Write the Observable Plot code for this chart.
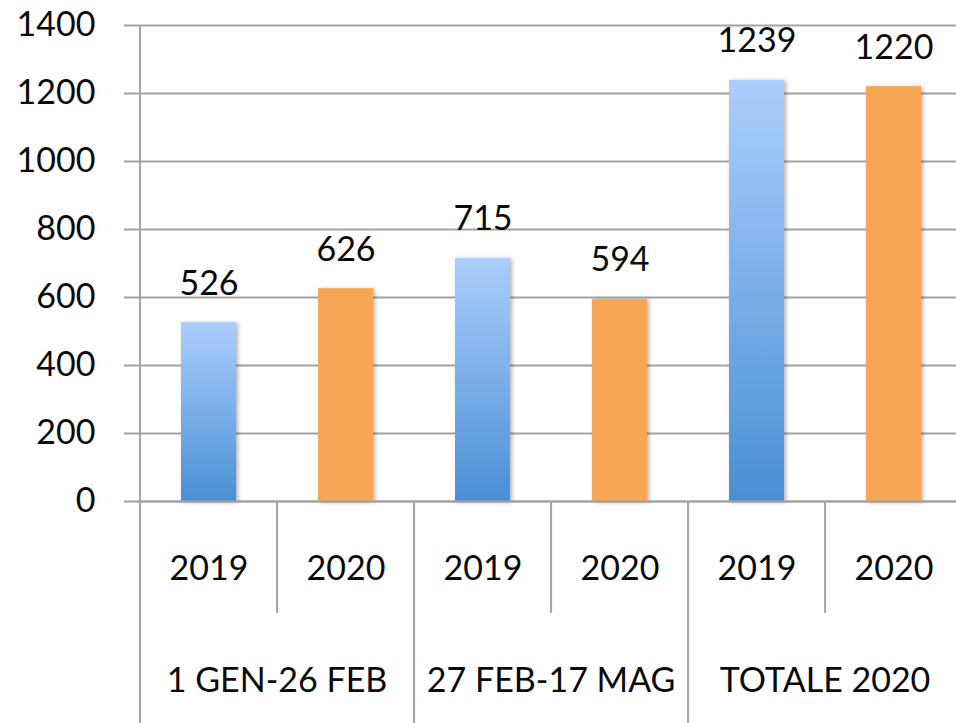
<!DOCTYPE html>
<html>
<head>
<meta charset="utf-8">
<script src="https://cdn.jsdelivr.net/npm/d3@7"></script>
<script src="https://cdn.jsdelivr.net/npm/@observablehq/plot@0.6"></script>
<style>
  html, body { margin: 0; padding: 0; background: #fff; }
</style>
</head>
<body>
<div id="chart"></div>
<script>
const groups = ["1 GEN-26 FEB", "27 FEB-17 MAG", "TOTALE 2020"];
const years = ["2019", "2020"];
const values2019 = [526, 715, 1239];
const values2020 = [626, 594, 1220];
const yTicks = [0, 200, 400, 600, 800, 1000, 1200, 1400];

const data = groups.flatMap((g, i) => [
  {group: g, year: years[0], value: values2019[i], key: g + "|" + years[0]},
  {group: g, year: years[1], value: values2020[i], key: g + "|" + years[1]}
]);

const W = 956, H = 723;
const mL = 137, mT = 25, mB = 222;
const xRange = [137, 964];
const bw = (xRange[1] - xRange[0]) / data.length;
const gridColor = "#a3a3a3";
const textColor = "#0a0a0a";

const axisLine = [data[0]];
const fullDiv = data.filter((d, i) => i > 0 && i % 2 === 0);
const shortDiv = data.filter((d, i) => i % 2 === 1);
const groupLabels = data.filter(d => d.year === years[1]);

const chart = Plot.plot({
  width: W,
  height: H,
  marginLeft: mL,
  marginRight: 0,
  marginTop: mT,
  marginBottom: mB,
  style: {fontFamily: "Lato, 'Open Sans', sans-serif", fontSize: "34px", color: textColor, background: "#fff", overflow: "visible"},
  x: {type: "band", domain: data.map(d => d.key), range: xRange, padding: 0, axis: null},
  y: {domain: [0, 1400], axis: null},
  marks: [
    Plot.gridY(yTicks, {stroke: gridColor, strokeOpacity: 1, strokeWidth: 2}),
    Plot.barY(data.filter(d => d.year === "2019"), {x: "key", y: "value", fill: "url(#blueGrad)", insetLeft: 41, insetRight: 41, className: "bars"}),
    Plot.barY(data.filter(d => d.year === "2020"), {x: "key", y: "value", fill: "#f7a656", insetLeft: 41, insetRight: 41, className: "bars"}),
    Plot.ruleY([0], {stroke: gridColor, strokeWidth: 2}),
    Plot.axisY({ticks: yTicks, tickSize: 13, tickPadding: 29, stroke: gridColor, strokeWidth: 2, fill: textColor, label: null, tickFormat: d => String(d)}),
    Plot.ruleX(axisLine, {x: "key", dx: -bw / 2, stroke: gridColor, strokeWidth: 2, insetBottom: -mB}),
    Plot.ruleX(fullDiv, {x: "key", dx: -bw / 2, stroke: gridColor, strokeWidth: 2, insetTop: H - mT - mB, insetBottom: -mB}),
    Plot.ruleX(shortDiv, {x: "key", dx: -bw / 2, stroke: gridColor, strokeWidth: 2, insetTop: H - mT - mB, insetBottom: -112}),
    Plot.text(data, {x: "key", y: "value", text: d => String(d.value), dy: -39, lineAnchor: "middle", fill: textColor}),
    Plot.text(data, {x: "key", text: "year", frameAnchor: "bottom", lineAnchor: "middle", dy: 68, fill: textColor}),
    Plot.text(groupLabels, {x: "key", text: "group", frameAnchor: "bottom", lineAnchor: "middle", dx: -bw / 2, dy: 180, fill: textColor})
  ]
});

const svg = d3.select(chart);
const defs = svg.insert("defs", ":first-child");
const grad = defs.append("linearGradient").attr("id", "blueGrad")
  .attr("x1", 0).attr("y1", 0).attr("x2", 0).attr("y2", 1);
grad.append("stop").attr("offset", "0%").attr("stop-color", "#abcefc");
grad.append("stop").attr("offset", "100%").attr("stop-color", "#4a8fd5");
const f = defs.append("filter").attr("id", "shadow").attr("x", "-30%").attr("y", "-10%").attr("width", "160%").attr("height", "120%");
f.append("feDropShadow").attr("dx", 2).attr("dy", 1).attr("stdDeviation", 2).attr("flood-color", "#000").attr("flood-opacity", 0.3);
svg.selectAll("g.bars").attr("filter", "url(#shadow)");

document.getElementById("chart").appendChild(chart);
</script>
</body>
</html>
